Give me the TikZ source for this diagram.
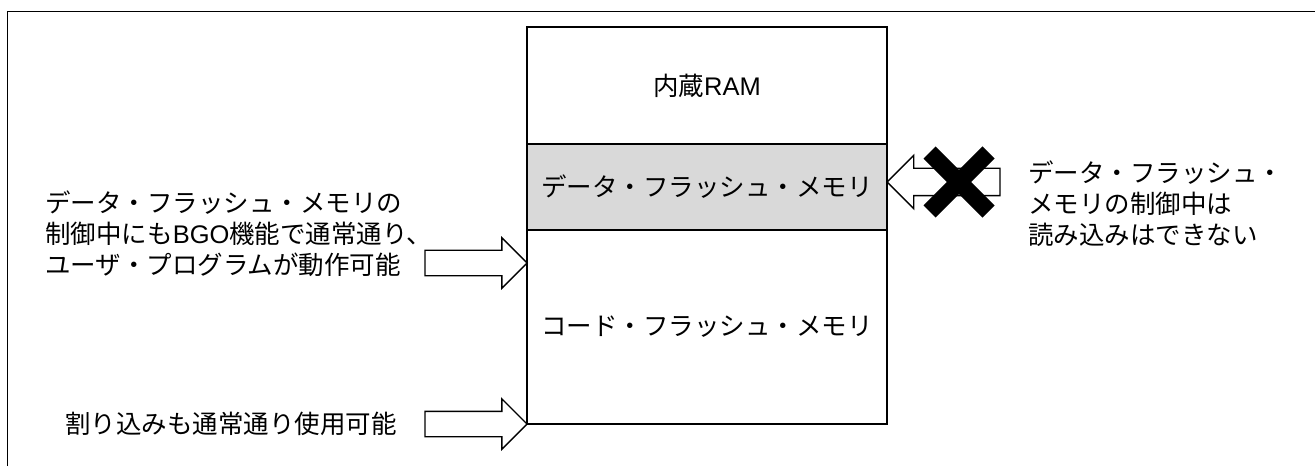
\documentclass[tikz,border=0pt]{standalone}
\usepackage{fontspec}
\setmainfont{Liberation Sans}
\newfontfamily\jp{Noto Sans CJK JP}
\usetikzlibrary{shapes.arrows}

\tikzset{
	membox/.style={draw, line width=0.7pt, minimum width=7.2cm, inner sep=0pt, outer sep=0pt},
	fatarrow/.style={draw, fill=white, line width=0.8pt, single arrow, inner sep=0pt, outer sep=0pt, text depth=0pt},
	note/.style={anchor=west, align=left, inner sep=0pt}
}

\begin{document}
\begin{tikzpicture}[font=\fontsize{14.5}{17.6}\selectfont]
			\useasboundingbox (0,0) rectangle (26.3,9.32);
			\draw [line width=1.1pt] (0.15,0) -- (0.15,9.09) -- (26.3,9.09);
			
			% memory map
			\node [membox, minimum height=2.34cm, anchor=north west] (ram) at (10.54,8.78) {{\jp 内蔵}RAM};
			\node [membox, fill=gray!30, minimum height=1.72cm, anchor=north] (dflash) at (ram.south) {\jp データ・フラッシュ・メモリ};
			\node [membox, minimum height=3.88cm, anchor=north] (cflash) at (dflash.south) {\jp コード・フラッシュ・メモリ};
			
			% notes
			\node [note] (ltext) at (0.9,4.64) {{\jp データ・フラッシュ・メモリの}\\{\jp 制御中にも}BGO{\jp 機能で通常通り、}\\{\jp ユーザ・プログラムが動作可能}};
			\node [note, anchor=east] (btext) at (7.94,0.84) {\jp 割り込みも通常通り使用可能};
			\node [note] (rtext) at (20.56,5.24) {{\jp データ・フラッシュ・}\\{\jp メモリの制御中は}\\{\jp 読み込みはできない}};
			
			% block arrows
			\coordinate (tip1) at (cflash.west |- 0,4.06);
			\coordinate (tip3) at (dflash.east |- 0,5.68);
			\node [fatarrow, text height=0.48cm, single arrow head extend=0.25cm, minimum height=2.04cm, anchor=tip] (bgo) at (tip1) {};
			\node [fatarrow, text height=0.48cm, single arrow head extend=0.25cm, minimum height=2.04cm, anchor=tip] (irq) at (cflash.south west) {};
			\node [fatarrow, shape border rotate=180, text height=0.52cm, single arrow head extend=0.26cm, minimum height=2.26cm, anchor=tip] (rd) at (tip3) {};
			
			% no read
			\coordinate (nox) at (19.18,5.68);
			\draw [line width=0.34cm] ([shift={(-0.59,-0.59)}]nox) -- ([shift={(0.59,0.59)}]nox);
			\draw [line width=0.34cm] ([shift={(-0.59,0.59)}]nox) -- ([shift={(0.59,-0.59)}]nox);
\end{tikzpicture}
\end{document}
